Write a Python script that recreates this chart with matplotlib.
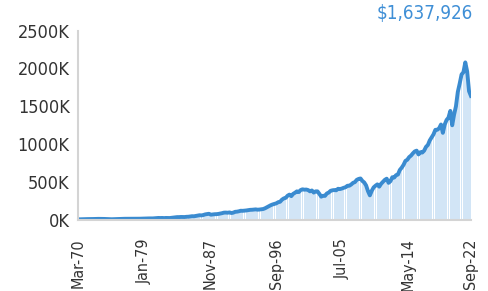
import matplotlib
matplotlib.use("Agg")
import matplotlib.pyplot as plt
from matplotlib.ticker import FuncFormatter
import numpy as np

plt.rcParams['font.family'] = ['DejaVu Sans']
plt.rcParams['font.stretch'] = 'condensed'

# quarterly portfolio value in $K (Mar, Jun, Sep, Dec), Mar-1970 .. Sep-2022
values_k = [
    10, 9, 10, 11,          # 1970
    12, 12, 12, 13,         # 1971
    13, 14, 14, 15,         # 1972
    15, 14, 14, 13,         # 1973
    13, 12, 10, 11,         # 1974
    13, 14, 13, 14,         # 1975
    16, 16, 16, 17,         # 1976
    16, 16, 16, 16,         # 1977
    16, 17, 18, 18,         # 1978
    19, 20, 21, 21,         # 1979
    21, 23, 25, 27,         # 1980
    26, 27, 25, 27,         # 1981
    26, 26, 29, 33,         # 1982
    35, 38, 38, 40,         # 1983
    39, 39, 42, 43,         # 1984
    47, 50, 49, 54,         # 1985
    60, 63, 60, 66,         # 1986
    74, 78, 82, 70,         # 1987
    73, 76, 77, 80,         # 1988
    85, 90, 97, 98,         # 1989
    96, 100, 92, 97,        # 1990
    108, 110, 115, 122,     # 1991
    121, 123, 126, 130,     # 1992
    134, 135, 138, 140,     # 1993
    136, 138, 142, 145,     # 1994
    155, 168, 182, 195,     # 1995
    205, 212, 220, 235,     # 1996
    240, 268, 285, 292,     # 1997
    320, 335, 315, 345,     # 1998
    360, 378, 368, 395,     # 1999
    405, 400, 402, 395,     # 2000
    378, 390, 362, 378,     # 2001
    378, 345, 308, 320,     # 2002
    318, 350, 362, 385,     # 2003
    392, 395, 392, 412,     # 2004
    408, 415, 425, 432,     # 2005
    452, 452, 468, 490,     # 2006
    500, 530, 542, 548,     # 2007
    515, 495, 455, 380,     # 2008
    325, 385, 430, 452,     # 2009
    470, 440, 478, 505,     # 2010
    530, 545, 490, 512,     # 2011
    565, 560, 592, 600,     # 2012
    660, 690, 728, 780,     # 2013
    795, 830, 850, 880,     # 2014
    905, 915, 865, 895,     # 2015
    890, 915, 965, 990,     # 2016
    1050, 1090, 1130, 1190, # 2017
    1190, 1210, 1260, 1150, # 2018
    1260, 1320, 1350, 1440, # 2019
    1250, 1390, 1500, 1690, # 2020
    1800, 1920, 1950, 2080, # 2021
    1960, 1700, 1637.926,   # 2022
]
tick_labels = ['Mar-70', 'Jan-79', 'Nov-87', 'Sep-96', 'Jul-05', 'May-14', 'Sep-22']
tick_months = [0, 106, 212, 318, 424, 530, 630]
final_label = '$1,637,926'

values = np.array(values_k) * 1000
months = np.arange(len(values)) * 3

fig = plt.figure(figsize=(4.89, 2.91), dpi=100)
ax = fig.add_axes([0.1595, 0.244, 0.8035, 0.651])

ax.bar(months, values, width=2.6, color='#d2e5f6', linewidth=0, align='center')
ax.plot(months, values, color='#3a8bd0', lw=2.8, solid_joinstyle='round')

ax.set_xlim(0, 630)
ax.set_ylim(0, 2500000)
ax.set_yticks(np.arange(0, 2500001, 500000))
ax.yaxis.set_major_formatter(FuncFormatter(lambda v, p: f'{int(v / 1000)}K'))
ax.set_xticks(tick_months)
ax.set_xticklabels(tick_labels, rotation=90)

for s in ['top', 'right']:
    ax.spines[s].set_visible(False)
for s in ['left', 'bottom']:
    ax.spines[s].set_color('#d4d4d4')
    ax.spines[s].set_linewidth(1.5)
ax.tick_params(length=0, labelcolor='#333333')
ax.tick_params(axis='y', labelsize=13, pad=6)
ax.tick_params(axis='x', labelsize=11.5, pad=13)

fig.text(0.967, 0.955, final_label, color='#3f8fd6', fontsize=13.5,
         ha='right', va='center')

fig.savefig('out.png', dpi=100)
